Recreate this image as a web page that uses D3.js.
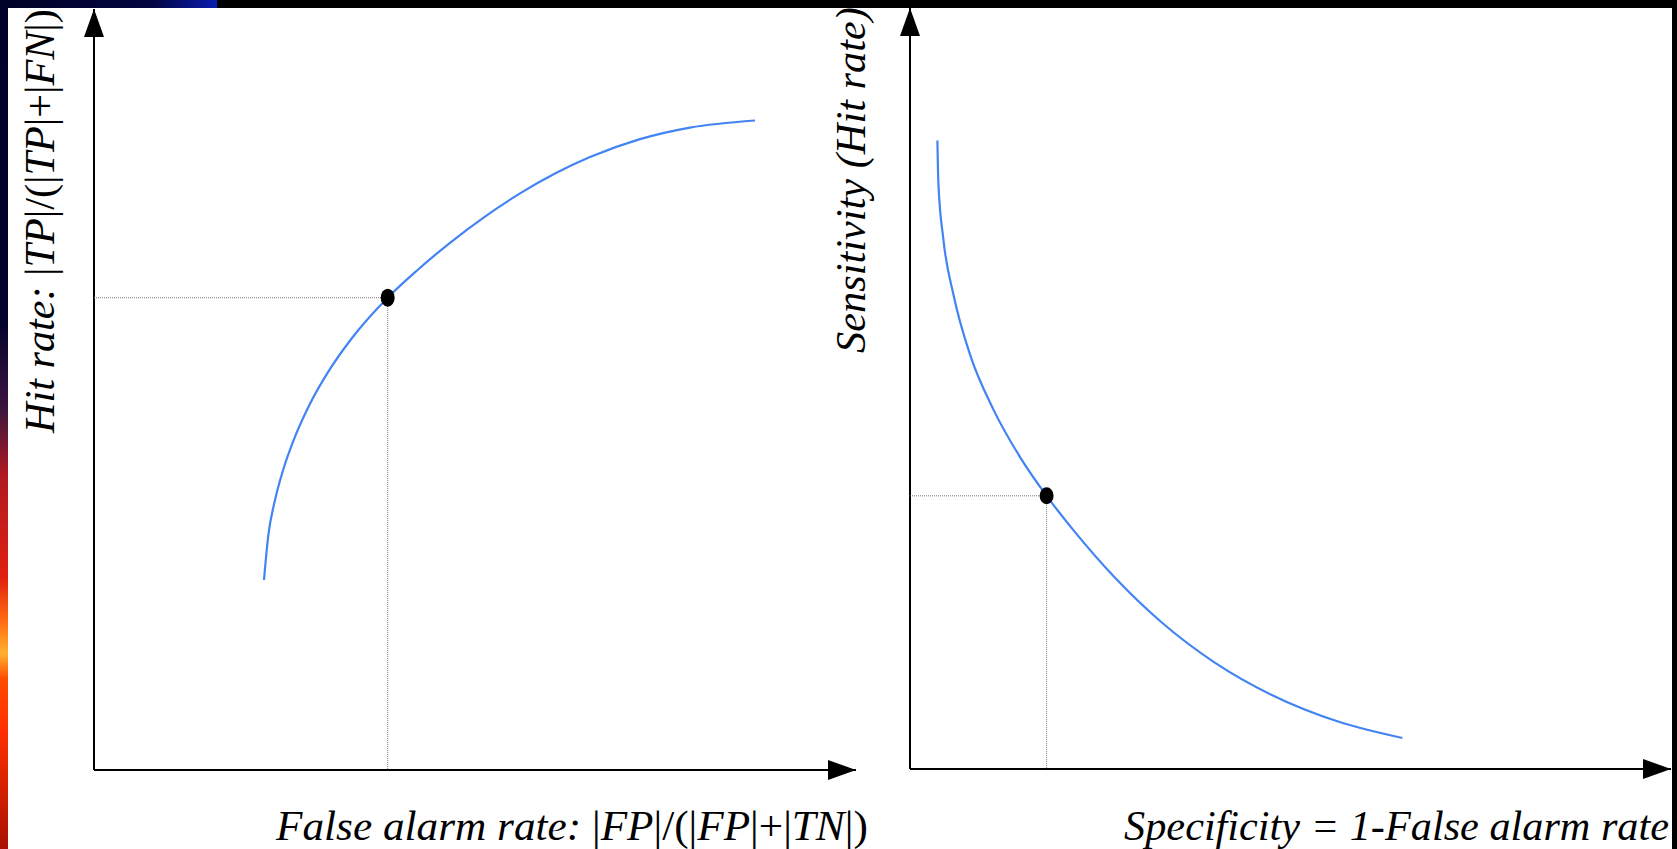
<!DOCTYPE html>
<html>
<head>
<meta charset="utf-8">
<script src="https://cdn.jsdelivr.net/npm/d3@7"></script>
<style>
  body { margin: 0; background: #000; overflow: hidden; }
  text { font-family: "Liberation Serif", "DejaVu Serif", serif; fill: #000; }
</style>
</head>
<body>
<div id="chart"></div>
<script>
// Curve values (both axes run 0..1)
var leftX = [0.2231, 0.2287, 0.2375, 0.2484, 0.2638, 0.2835, 0.3075, 0.3386, 0.3854, 0.4239, 0.4672, 0.5131, 0.5591, 0.6050, 0.6509, 0.7165, 0.7822, 0.8675];
var leftY = [0.2497, 0.3079, 0.3545, 0.3949, 0.4380, 0.4813, 0.5234, 0.5677, 0.6206, 0.6564, 0.6928, 0.7273, 0.7577, 0.7838, 0.8054, 0.8290, 0.8442, 0.8535];
var leftPoint = [0.3854, 0.6206];

var rightX = [0.0360, 0.0373, 0.0440, 0.0572, 0.0788, 0.1100, 0.1452, 0.1795, 0.2155, 0.2685, 0.3301, 0.4005, 0.4754, 0.5635, 0.6470];
var rightY = [0.8260, 0.7700, 0.6951, 0.6229, 0.5448, 0.4716, 0.4089, 0.3590, 0.3129, 0.2523, 0.1932, 0.1398, 0.0972, 0.0620, 0.0407];
var rightPoint = [0.1795, 0.3590];

var width = 1677, height = 849;

var svg = d3.select("#chart").append("svg")
    .attr("width", width)
    .attr("height", height);

// Slide background: dark frame with the coloured left stripe
var defs = svg.append("defs");
var side = defs.append("linearGradient").attr("id", "side")
    .attr("x1", 0).attr("y1", 0).attr("x2", 0).attr("y2", 1);
[[0, "#00022a"], [0.38, "#03032c"], [0.48, "#3a1440"], [0.56, "#b01a22"], [0.68, "#e02010"],
 [0.73, "#ff6a10"], [0.77, "#ffb030"], [0.8, "#ff4a00"], [0.86, "#ff3000"], [1, "#a81000"]]
    .forEach(function(s) { side.append("stop").attr("offset", s[0]).attr("stop-color", s[1]); });
var topBar = defs.append("linearGradient").attr("id", "topbar")
    .attr("x1", 0).attr("y1", 0).attr("x2", 1).attr("y2", 0);
[[0, "#000226"], [0.7, "#020540"], [1, "#0a1cb0"]]
    .forEach(function(s) { topBar.append("stop").attr("offset", s[0]).attr("stop-color", s[1]); });

svg.append("rect").attr("width", width).attr("height", height).attr("fill", "#000");
svg.append("rect").attr("x", 0).attr("y", 0).attr("width", 217).attr("height", 8).attr("fill", "url(#topbar)");
svg.append("rect").attr("x", 0).attr("y", 0).attr("width", 8).attr("height", height).attr("fill", "url(#side)");
svg.append("rect").attr("x", 8).attr("y", 8).attr("width", 1664).attr("height", height - 8).attr("fill", "#fff");

// Arrow head
defs.append("marker")
    .attr("id", "arrow")
    .attr("markerUnits", "userSpaceOnUse")
    .attr("viewBox", "0 0 28 20")
    .attr("refX", 28).attr("refY", 10)
    .attr("markerWidth", 28).attr("markerHeight", 20)
    .attr("orient", "auto")
  .append("path")
    .attr("d", "M0,0 L28,10 L0,20 Z")
    .attr("fill", "#000");

function drawPanel(xs, ys, pt, xRange, yRange, ry) {
    var xScale = d3.scaleLinear().domain([0, 1]).range(xRange);
    var yScale = d3.scaleLinear().domain([0, 1]).range(yRange);
    var g = svg.append("g");

    // Axes
    g.append("line")
        .attr("x1", xScale(0)).attr("y1", yScale(0))
        .attr("x2", xScale(0)).attr("y2", yScale(1))
        .attr("stroke", "#000").attr("stroke-width", 2)
        .attr("marker-end", "url(#arrow)");
    g.append("line")
        .attr("x1", xScale(0)).attr("y1", yScale(0))
        .attr("x2", xScale(1)).attr("y2", yScale(0))
        .attr("stroke", "#000").attr("stroke-width", 2)
        .attr("marker-end", "url(#arrow)");

    // Dotted guides to the operating point
    g.append("path")
        .attr("d", "M" + xScale(0) + "," + yScale(pt[1]) + "H" + xScale(pt[0]) + "V" + yScale(0))
        .attr("fill", "none")
        .attr("stroke", "#777")
        .attr("stroke-width", 1)
        .attr("stroke-dasharray", "1,1");

    var pts = xs.map(function(v, i) { return [v, ys[i]]; });
    var line = d3.line()
        .x(function(d) { return xScale(d[0]); })
        .y(function(d) { return yScale(d[1]); })
        .curve(d3.curveMonotoneX);
    g.append("path")
        .datum(pts)
        .attr("d", line)
        .attr("fill", "none")
        .attr("stroke", "#4384f4")
        .attr("stroke-width", 2.2);

    g.append("ellipse")
        .attr("cx", xScale(pt[0]))
        .attr("cy", yScale(pt[1]))
        .attr("rx", 7).attr("ry", ry)
        .attr("fill", "#000");
}

drawPanel(leftX, leftY, leftPoint, [94, 856], [770, 9], 9);
drawPanel(rightX, rightY, rightPoint, [910, 1671], [769, 8], 8.5);

// Axis titles: mixed italic / upright parts
function addLabel(parts, transform, anchor, target) {
    var t = svg.append("text")
        .attr("font-size", 42)
        .attr("text-anchor", anchor);
    parts.forEach(function(p) {
        t.append("tspan").attr("font-style", p[1] ? "italic" : "normal").text(p[0]);
    });
    // stretch a little so the title covers the same run as the original
    var len = t.node().getComputedTextLength();
    t.attr("transform", transform + " scale(" + (target / len) + ",1)");
}

addLabel([["False alarm rate: ", 1], ["|", 0], ["FP", 1], ["|/(|", 0], ["FP", 1], ["|+|", 0], ["TN", 1], ["|)", 0]],
    "translate(276,840)", "start", 592);
addLabel([["Specificity = 1-False alarm rate", 1]],
    "translate(1669,840)", "end", 545);
addLabel([["Hit rate: ", 1], ["|", 0], ["TP", 1], ["|/(|", 0], ["TP", 1], ["|+|", 0], ["FN", 1], ["|)", 0]],
    "translate(54,433) rotate(-90)", "start", 424);
addLabel([["Sensitivity (Hit rate)", 1]],
    "translate(865,353) rotate(-90)", "start", 346);
</script>
</body>
</html>
